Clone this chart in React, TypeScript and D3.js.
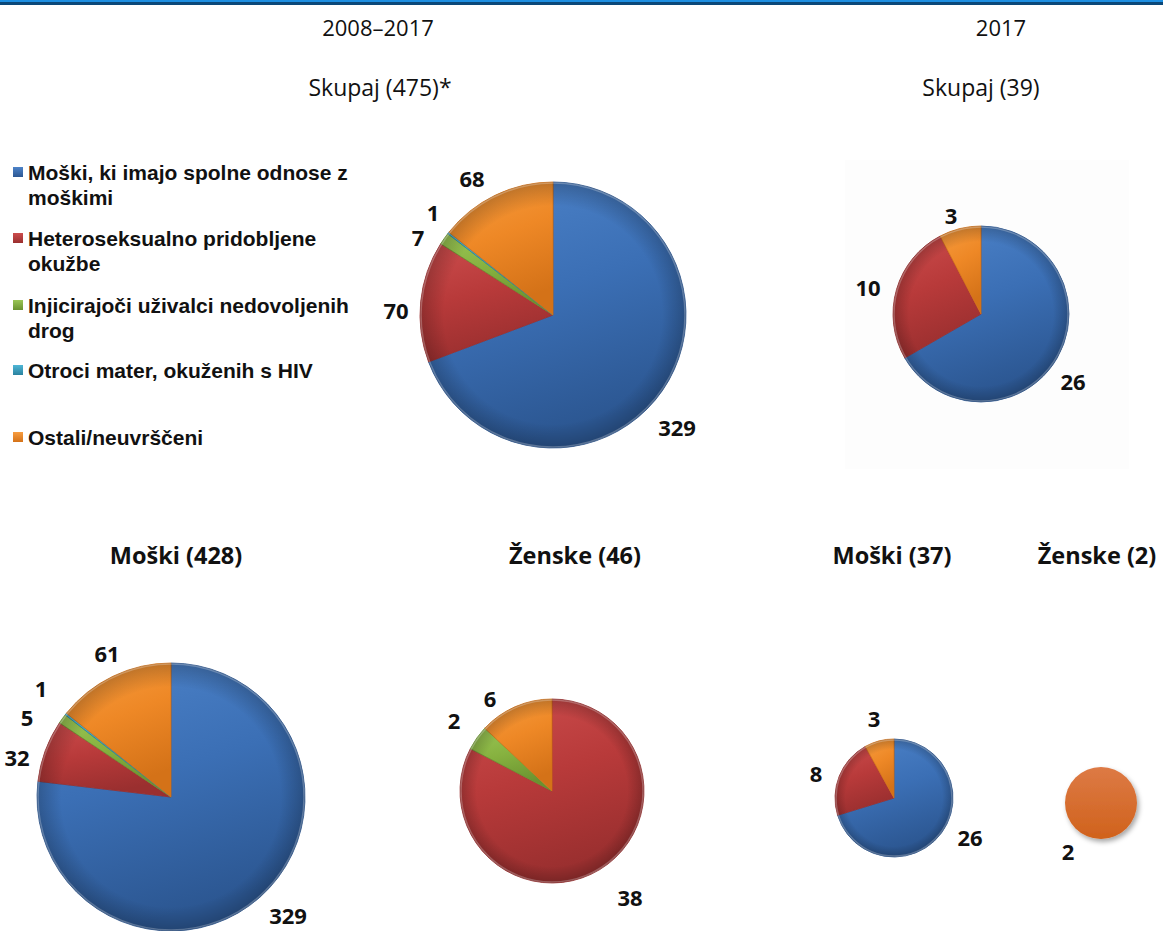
import React from "react";
import * as d3 from "d3";

const categories = [
  "Moški, ki imajo spolne odnose z moškimi",
  "Heteroseksualno pridobljene okužbe",
  "Injicirajoči uživalci nedovoljenih drog",
  "Otroci mater, okuženih s HIV",
  "Ostali/neuvrščeni",
];
const legendLines = [
  ["Moški, ki imajo spolne odnose z", "moškimi"],
  ["Heteroseksualno pridobljene", "okužbe"],
  ["Injicirajoči uživalci nedovoljenih", "drog"],
  ["Otroci mater, okuženih s HIV"],
  ["Ostali/neuvrščeni"],
];

const totalAll = [329, 70, 7, 1, 68];
const total2017 = [26, 10, 0, 0, 3];
const menAll = [329, 32, 5, 1, 61];
const womenAll = [0, 38, 2, 0, 6];
const men2017 = [26, 8, 0, 0, 3];
const women2017 = [0, 0, 0, 0, 2];

const periodTitles = ["2008–2017", "2017"];
const totalTitles = ["Skupaj (475)*", "Skupaj (39)"];
const subTitles = ["Moški (428)", "Ženske (46)", "Moški (37)", "Ženske (2)"];

const colors = ["#3b6fb5", "#b83a3a", "#86b13f", "#38a0c2", "#ee8826"];
const colorsLight = ["#4d83c9", "#cc4d4d", "#9ac655", "#4fb6d6", "#f79d40"];
const colorsDark = ["#2c5792", "#9a2f2f", "#6a9230", "#2a829f", "#d47218"];

type PieCfg = {
  values: number[];
  cx: number;
  cy: number;
  r: number;
  labels: ([number, number] | null)[];
  flat?: boolean;
};

const pies: PieCfg[] = [
  { values: totalAll, cx: 553, cy: 315, r: 133, labels: [[677, 427], [396, 310], [418, 237], [433, 212], [472, 178]] },
  { values: total2017, cx: 981, cy: 314, r: 88, labels: [[1073, 381], [868, 287], null, null, [951, 215]] },
  { values: menAll, cx: 171, cy: 797, r: 134, labels: [[288, 915], [17, 757], [27, 717], [41, 688], [107, 653]] },
  { values: womenAll, cx: 552, cy: 791, r: 92, labels: [null, [630, 897], [454, 720], null, [490, 698]] },
  { values: men2017, cx: 894, cy: 798, r: 59, labels: [[970, 837], [816, 773], null, null, [874, 718]] },
  { values: women2017, cx: 1101, cy: 803, r: 36, labels: [null, null, null, null, [1068, 851]], flat: true },
];

const pieGen = d3.pie<number>().sort(null).value((d) => d);

function Pie({ cfg }: { cfg: PieCfg }) {
  const arcs = pieGen(cfg.values);
  const arc = d3.arc<d3.PieArcDatum<number>>().innerRadius(0).outerRadius(cfg.r);
  return (
    <g>
      <g transform={`translate(${cfg.cx},${cfg.cy})`} filter={cfg.flat ? "url(#shadow)" : undefined}>
        {arcs.map((a, i) =>
          a.value > 0 ? (
            <path
              key={i}
              d={arc(a) || ""}
              fill={cfg.flat ? "url(#flatOrange)" : `url(#grad${i})`}
              stroke={cfg.flat ? "none" : colorsDark[i]}
              strokeWidth={0.8}
              strokeLinejoin="round"
            />
          ) : null
        )}
        {!cfg.flat && <circle r={cfg.r} fill="url(#rim)" />}
        {!cfg.flat && <circle r={cfg.r - 1} fill="none" stroke="rgba(255,255,255,0.25)" strokeWidth={1.5} />}
      </g>
      {arcs.map((a, i) => {
        const p = cfg.labels[i];
        if (!p || a.value <= 0) return null;
        return (
          <text
            key={"l" + i}
            x={p[0]}
            y={p[1]}
            textAnchor="middle"
            dominantBaseline="central"
            fontFamily="'Open Sans', sans-serif"
            fontWeight={700}
            fontSize={22}
            fill="#111"
          >
            {a.value}
          </text>
        );
      })}
    </g>
  );
}

export default function App() {
  const W = 1163;
  const H = 931;
  const legendRowsY = [172, 238, 305, 370, 437];
  return (
    <svg
      width={W}
      height={H}
      style={{ position: "absolute", left: 0, top: 0, background: "#fff" }}
    >
      <defs>
        {colors.map((c, i) => (
          <linearGradient key={i} id={`grad${i}`} x1="0" y1="0" x2="0.3" y2="1">
            <stop offset="0" stopColor={colorsLight[i]} />
            <stop offset="0.5" stopColor={c} />
            <stop offset="1" stopColor={colorsDark[i]} />
          </linearGradient>
        ))}
        {colors.map((c, i) => (
          <linearGradient key={"lg" + i} id={`leg${i}`} x1="0" y1="0" x2="0" y2="1">
            <stop offset="0" stopColor={colorsLight[i]} />
            <stop offset="1" stopColor={colorsDark[i]} />
          </linearGradient>
        ))}
        <radialGradient id="rim" cx="0.5" cy="0.5" r="0.5">
          <stop offset="0.82" stopColor="#000" stopOpacity={0} />
          <stop offset="1" stopColor="#000" stopOpacity={0.22} />
        </radialGradient>
        <linearGradient id="flatOrange" x1="0" y1="0" x2="0" y2="1">
          <stop offset="0" stopColor="#dd7a45" />
          <stop offset="1" stopColor="#d0621c" />
        </linearGradient>
        <filter id="shadow" x="-30%" y="-30%" width="160%" height="160%">
          <feDropShadow dx="2" dy="3" stdDeviation="2.5" floodColor="#000" floodOpacity={0.35} />
        </filter>
      </defs>

      <rect x={0} y={0} width={W} height={2} fill="#1d8fe2" />
      <rect x={0} y={2} width={W} height={3} fill="#0b4879" />

      {/* faint panel behind 2017 total pie */}
      <rect x={845} y={160} width={284} height={309} fill="#fdfdfd" />

      <g fontFamily="'Open Sans', sans-serif" fill="#111" textAnchor="middle">
        <text x={378} y={27} fontSize={22} dominantBaseline="central">{periodTitles[0]}</text>
        <text x={1001} y={27} fontSize={22} dominantBaseline="central">{periodTitles[1]}</text>
        <text x={380} y={87} fontSize={23} dominantBaseline="central">{totalTitles[0]}</text>
        <text x={981} y={87} fontSize={23} dominantBaseline="central">{totalTitles[1]}</text>
        <text x={176} y={555} fontSize={23.5} fontWeight={700} dominantBaseline="central">{subTitles[0]}</text>
        <text x={575} y={555} fontSize={23.5} fontWeight={700} dominantBaseline="central">{subTitles[1]}</text>
        <text x={892} y={555} fontSize={23.5} fontWeight={700} dominantBaseline="central">{subTitles[2]}</text>
        <text x={1097} y={555} fontSize={23.5} fontWeight={700} dominantBaseline="central">{subTitles[3]}</text>
      </g>

      <g fontFamily="'Liberation Sans', Arial, sans-serif" fontWeight={700} fontSize={21} fill="#111">
        {categories.map((c, i) => (
          <g key={c}>
            <rect x={13} y={legendRowsY[i] - 5} width={10} height={10} fill={`url(#leg${i})`} />
            {legendLines[i].map((ln, j) => (
              <text key={j} x={28} y={legendRowsY[i] + j * 25} dominantBaseline="central">
                {ln}
              </text>
            ))}
          </g>
        ))}
      </g>

      {pies.map((p, i) => (
        <Pie key={i} cfg={p} />
      ))}
    </svg>
  );
}
